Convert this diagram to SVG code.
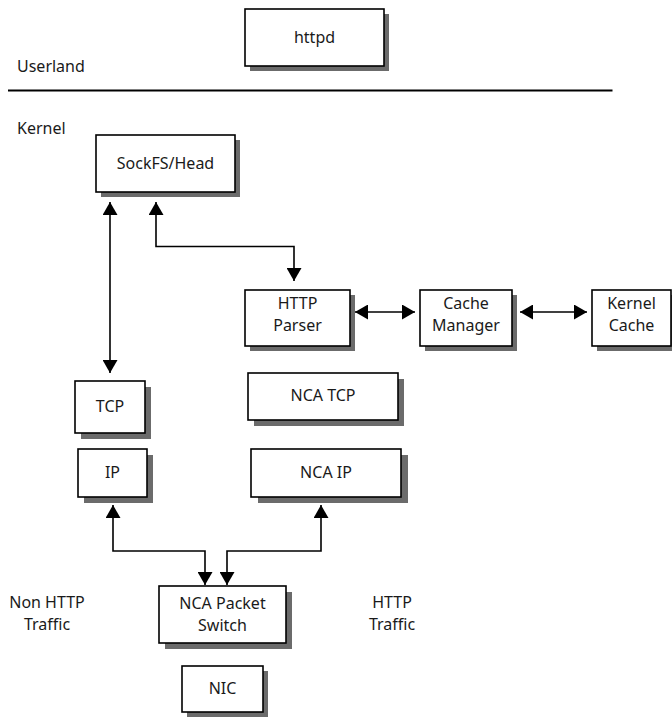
<svg xmlns="http://www.w3.org/2000/svg" width="672" height="717" viewBox="0 0 672 717">
<style>
.shadow{fill:#6b6b6b}
.box{fill:#fff;stroke:#000;stroke-width:1.6}
.t{font-family:"Noto Sans","Open Sans","Liberation Sans",sans-serif;font-size:16px;fill:#1a1a1a;text-anchor:middle}
.l{font-family:"Noto Sans","Open Sans","Liberation Sans",sans-serif;font-size:16px;fill:#1a1a1a}
.c{fill:none;stroke:#000;stroke-width:1.6;marker-start:url(#ah);marker-end:url(#ah)}
</style>
<defs>
<marker id="ah" markerUnits="userSpaceOnUse" viewBox="0 0 13 15" markerWidth="13" markerHeight="15" refX="13" refY="7.5" orient="auto-start-reverse">
<path d="M0,0 L13,7.5 L0,15 z" fill="#000"/>
</marker>
</defs>
<rect width="672" height="717" fill="#fff"/>
<g id="labels">
<text class="l" x="17" y="72">Userland</text>
<text class="l" x="17" y="134">Kernel</text>
<text class="t" x="47" y="608">Non HTTP</text>
<text class="t" x="47" y="630">Traffic</text>
<text class="t" x="392" y="608">HTTP</text>
<text class="t" x="392" y="630">Traffic</text>
</g>
<line id="divider" x1="8" y1="90.5" x2="612.5" y2="90.5" stroke="#000" stroke-width="1.8"/>
<g id="httpd"><rect class="shadow" x="250" y="14" width="139" height="57"/><rect class="box" x="245" y="9" width="139" height="57"/><text class="t" x="314.5" y="43">httpd</text></g>
<g id="sockfs"><rect class="shadow" x="101" y="140" width="139" height="57"/><rect class="box" x="96" y="135" width="139" height="57"/><text class="t" x="165.5" y="169">SockFS/Head</text></g>
<g id="httpparser"><rect class="shadow" x="250" y="295" width="105" height="56"/><rect class="box" x="245" y="290" width="105" height="56"/><text class="t" x="297.5" y="309">HTTP</text><text class="t" x="297.5" y="331">Parser</text></g>
<g id="cachemanager"><rect class="shadow" x="425" y="295" width="92" height="56"/><rect class="box" x="420" y="290" width="92" height="56"/><text class="t" x="466" y="309">Cache</text><text class="t" x="466" y="331">Manager</text></g>
<g id="kernelcache"><rect class="shadow" x="597" y="295" width="80" height="56"/><rect class="box" x="592" y="290" width="79" height="56"/><text class="t" x="631.5" y="309">Kernel</text><text class="t" x="631.5" y="331">Cache</text></g>
<g id="tcp"><rect class="shadow" x="81" y="387" width="70" height="52"/><rect class="box" x="75" y="381" width="70" height="52"/><text class="t" x="110" y="412">TCP</text></g>
<g id="ncatcp"><rect class="shadow" x="254" y="379" width="150" height="47"/><rect class="box" x="248" y="373" width="150" height="47"/><text class="t" x="323" y="401">NCA TCP</text></g>
<g id="ip"><rect class="shadow" x="84" y="455" width="69" height="48"/><rect class="box" x="78" y="449" width="69" height="48"/><text class="t" x="112.5" y="478">IP</text></g>
<g id="ncaip"><rect class="shadow" x="258" y="455" width="150" height="48"/><rect class="box" x="251" y="449" width="150" height="48"/><text class="t" x="326" y="478">NCA IP</text></g>
<g id="packetswitch"><rect class="shadow" x="165" y="592" width="127" height="57"/><rect class="box" x="159" y="586" width="127" height="57"/><text class="t" x="222.5" y="609">NCA Packet</text><text class="t" x="222.5" y="631">Switch</text></g>
<g id="nic"><rect class="shadow" x="187" y="671" width="81" height="46"/><rect class="box" x="182" y="666" width="81" height="46"/><text class="t" x="222.5" y="694">NIC</text></g>
<g id="connectors">
<path class="c" d="M110,202 V373"/>
<path class="c" d="M156,202 V246.5 H294 V281"/>
<path class="c" d="M355,312 H415"/>
<path class="c" d="M520,312 H587"/>
<path class="c" d="M113,505 V551 H205 V585"/>
<path class="c" d="M321,505 V551 H227 V585"/>
</g>
</svg>
